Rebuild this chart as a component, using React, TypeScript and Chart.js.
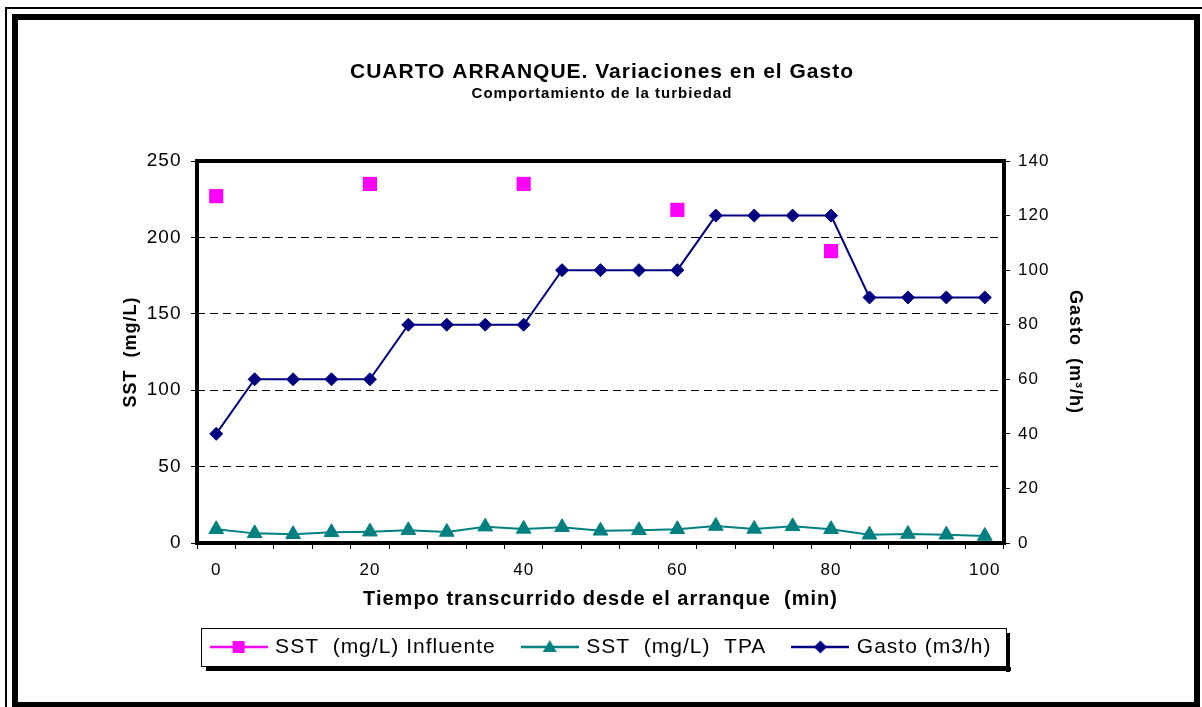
import React, { useEffect, useRef } from 'react';
import { Chart, registerables } from 'chart.js';

Chart.register(...registerables);

// ---- data ----
const minutes = [0, 5, 10, 15, 20, 25, 30, 35, 40, 45, 50, 55, 60, 65, 70, 75, 80, 85, 90, 95, 100];
const xTickLabels = ['0', '20', '40', '60', '80', '100'];
const sstInfluente = [227, null, null, null, 235, null, null, null, 235, null, null, null, 218, null, null, null, 191, null, null, null, null];
const sstTPA = [9.0, 6.3, 5.7, 7.0, 7.4, 8.3, 7.2, 10.7, 9.2, 10.3, 8.0, 8.3, 9.0, 11.1, 9.2, 10.9, 9.0, 5.4, 5.9, 5.4, 4.6];
const gasto = [40, 60, 60, 60, 60, 80, 80, 80, 80, 100, 100, 100, 100, 120, 120, 120, 120, 90, 90, 90, 90];

const seriesNames = ['SST  (mg/L) Influente', 'SST  (mg/L)  TPA', 'Gasto (m3/h)'];
const titleText = 'CUARTO ARRANQUE. Variaciones en el Gasto';
const subtitleText = 'Comportamiento de la turbiedad';
const xTitle = 'Tiempo transcurrido desde el arranque  (min)';
const yTitle = 'SST  (mg/L)';
const y1Title = 'Gasto  (m³/h)';

const FONT = "'Liberation Sans', Arial, Helvetica, sans-serif";
const MAGENTA = '#FF00FF';
const TEAL = '#008080';
const NAVY = '#000080';

function makeLegendImage(color: string, marker: 'rect' | 'triangle' | 'diamond'): HTMLCanvasElement {
  const c = document.createElement('canvas');
  c.width = 58;
  c.height = 20;
  const g = c.getContext('2d')!;
  g.strokeStyle = color;
  g.fillStyle = color;
  g.lineWidth = 2.5;
  g.beginPath();
  g.moveTo(0, 10);
  g.lineTo(58, 10);
  g.stroke();
  const cx = 29, cy = 10;
  g.beginPath();
  if (marker === 'rect') {
    g.rect(cx - 6, cy - 6, 12, 12);
  } else if (marker === 'triangle') {
    g.moveTo(cx, cy - 7);
    g.lineTo(cx + 7, cy + 5);
    g.lineTo(cx - 7, cy + 5);
    g.closePath();
  } else {
    g.moveTo(cx - 6.5, cy);
    g.lineTo(cx, cy - 6.5);
    g.lineTo(cx + 6.5, cy);
    g.lineTo(cx, cy + 6.5);
    g.closePath();
  }
  g.fill();
  return c;
}

const SPACING = '1px';
const spacingPlugin = {
  id: 'letterSpacingAll',
  beforeUpdate(chart: any) { (chart.ctx as any).letterSpacing = SPACING; },
  beforeDraw(chart: any) { (chart.ctx as any).letterSpacing = SPACING; },
};

const areaFramePlugin = {
  id: 'areaFrame',
  beforeDatasetsDraw(chart: any) {
    const { ctx, chartArea } = chart;
    ctx.save();
    ctx.strokeStyle = '#000';
    ctx.lineWidth = 4;
    ctx.strokeRect(chartArea.left, chartArea.top, chartArea.right - chartArea.left, chartArea.bottom - chartArea.top);
    ctx.restore();
  },
};

const legendFramePlugin = {
  id: 'legendFrame',
  afterDraw(chart: any) {
    const lg = chart.legend;
    if (!lg || !lg.legendHitBoxes || !lg.legendHitBoxes.length) return;
    const hb = lg.legendHitBoxes;
    const first = hb[0];
    const last = hb[hb.length - 1];
    const left = first.left - 12;
    const right = last.left + last.width + 14;
    const top = first.top - 9;
    const bottom = first.top + first.height + 8;
    const { ctx } = chart;
    ctx.save();
    ctx.strokeStyle = '#000';
    ctx.lineWidth = 1;
    ctx.strokeRect(Math.round(left) + 0.5, Math.round(top) + 0.5, Math.round(right - left), Math.round(bottom - top));
    ctx.fillStyle = '#000';
    ctx.fillRect(Math.round(right) + 1, Math.round(top) + 5, 4, Math.round(bottom - top) + 1);
    ctx.fillRect(Math.round(left) + 5, Math.round(bottom) + 1, Math.round(right - left), 4);
    ctx.restore();
  },
};

export default function App() {
  const ref = useRef<HTMLCanvasElement>(null);

  useEffect(() => {
    const canvas = ref.current;
    if (!canvas) return;
    const legendImages = [
      makeLegendImage(MAGENTA, 'rect'),
      makeLegendImage(TEAL, 'triangle'),
      makeLegendImage(NAVY, 'diamond'),
    ];
    const tickFont = { family: FONT, size: 17 };
    const chart = new Chart(canvas, {
      type: 'line',
      data: {
        labels: minutes.map(String),
        datasets: [
          {
            label: seriesNames[0],
            data: sstInfluente,
            yAxisID: 'y',
            showLine: false,
            borderColor: MAGENTA,
            backgroundColor: MAGENTA,
            pointStyle: 'rect',
            pointRadius: 10,
            pointBorderWidth: 0,
          },
          {
            label: seriesNames[1],
            data: sstTPA,
            yAxisID: 'y',
            borderColor: TEAL,
            backgroundColor: TEAL,
            borderWidth: 2,
            pointStyle: 'triangle',
            pointRadius: 8.5,
            pointBorderWidth: 1,
          },
          {
            label: seriesNames[2],
            data: gasto,
            yAxisID: 'y1',
            borderColor: NAVY,
            backgroundColor: NAVY,
            borderWidth: 2,
            pointStyle: 'rectRot',
            pointRadius: 6.5,
            pointBorderWidth: 1,
          },
        ],
      },
      options: {
        animation: false,
        responsive: false,
        maintainAspectRatio: false,
        layout: { padding: { left: 100, right: 98, top: 50, bottom: 39.5 } },
        plugins: {
          title: {
            display: true,
            text: titleText,
            color: '#000',
            font: { family: FONT, size: 21, weight: 'bold' },
            padding: { top: 9.5, bottom: 0 },
          },
          subtitle: {
            display: true,
            text: subtitleText,
            color: '#000',
            font: { family: FONT, size: 15, weight: 'bold' },
            padding: { top: 0, bottom: 58.3 },
          },
          legend: {
            display: true,
            position: 'bottom',
            labels: {
              usePointStyle: true,
              pointStyleWidth: 52,
              padding: 28,
              color: '#000',
              font: { family: FONT, size: 21 },
              generateLabels: (ch: any) => {
                const items = (Chart.defaults.plugins.legend.labels as any).generateLabels(ch);
                items.forEach((it: any, i: number) => { it.pointStyle = legendImages[i]; });
                return items;
              },
            },
          },
          tooltip: { enabled: false },
        },
        scales: {
          x: {
            type: 'category',
            offset: true,
            grid: { display: true, drawOnChartArea: false, offset: true, tickLength: 6, tickColor: '#000', tickWidth: 1 },
            border: { display: false },
            ticks: {
              autoSkip: false,
              maxRotation: 0,
              padding: 11,
              color: '#000',
              font: tickFont,
              callback: (_v: any, i: number) => (xTickLabels.includes(String(minutes[i])) ? String(minutes[i]) : ''),
            },
            title: {
              display: true,
              text: xTitle,
              color: '#000',
              font: { family: FONT, size: 20, weight: 'bold' },
              padding: { top: 0, bottom: -2.5 },
            },
            afterFit: (s: any) => { s.height = 65.5; },
          },
          y: {
            position: 'left',
            min: 0,
            max: 250,
            ticks: { stepSize: 50, padding: 9.5, color: '#000', font: { family: FONT, size: 19 } },
            grid: { color: '#000', lineWidth: 1, tickLength: 6, tickColor: '#000', tickWidth: 1 },
            border: { display: false, dash: [8, 5] },
            title: {
              display: true,
              text: yTitle,
              color: '#000',
              font: { family: FONT, size: 18, weight: 'bold' },
              padding: { top: 20, bottom: 0 },
            },
            afterFit: (s: any) => { s.width = 97; },
          },
          y1: {
            position: 'right',
            min: 0,
            max: 140,
            ticks: { stepSize: 20, padding: 8, color: '#000', font: tickFont },
            grid: { drawOnChartArea: false, tickLength: 6, tickColor: '#000', tickWidth: 1 },
            border: { display: false },
            title: {
              display: true,
              text: y1Title,
              color: '#000',
              font: { family: FONT, size: 18, weight: 'bold' },
              padding: { top: 18.7, bottom: 0 },
            },
            afterFit: (s: any) => { s.width = 100; },
          },
        },
      } as any,
      plugins: [spacingPlugin, areaFramePlugin, legendFramePlugin],
    });
    return () => chart.destroy();
  }, []);

  return (
    <div style={{ position: 'fixed', left: 0, top: 0, width: 1202, height: 707, overflow: 'hidden', background: '#fff' }}>
      <div style={{ position: 'absolute', left: 5, top: 7, width: 1220, height: 720, border: '2px solid #000', boxSizing: 'border-box' }} />
      <div style={{ position: 'absolute', left: 12, top: 14, width: 1188, height: 694, border: '6px solid #000', boxSizing: 'border-box' }} />
      <canvas ref={ref} width={1202} height={707} style={{ position: 'absolute', left: 0, top: 0, width: 1202, height: 707 }} />
    </div>
  );
}
